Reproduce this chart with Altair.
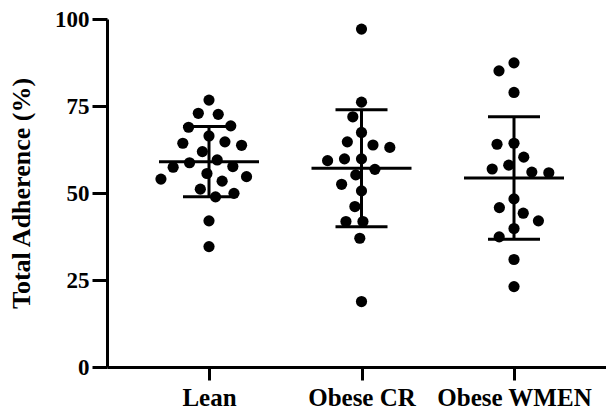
import math
import altair as alt
import pandas as pd

# ---- data ----
groups = ["Lean", "Obese CR", "Obese WMEN"]
lean = [76.7, 72.6, 72.9, 68.9, 69.3, 66.4, 64.3, 63.7, 64.7, 61.9, 58.7, 59.5,
        57.4, 57.6, 54.7, 55.6, 54.0, 53.4, 51.1, 48.9, 49.9, 42.0, 34.6]
obese_cr = [97.1, 76.1, 71.9, 67.4, 64.7, 63.1, 63.8, 59.8, 59.3, 59.8, 56.8,
            55.2, 52.5, 50.6, 46.1, 41.8, 41.8, 37.0, 18.8]
obese_wmen = [87.4, 85.1, 78.9, 64.0, 64.3, 60.3, 56.9, 55.8, 56.0, 58.0, 48.3,
              45.8, 44.2, 42.0, 39.8, 37.4, 30.9, 23.1]
means = [59.0, 57.1, 54.3]
sds = [10.1, 16.8, 17.6]
y_ticks = [0, 25, 50, 75, 100]

# ---- layout constants ----
W, H = 499, 348
STEP_PX = 152.5
X_MIN = -102 / STEP_PX
X_MAX = X_MIN + W / STEP_PX
PX_PER_Y = H / 100.0
DOT_D = 17.0
MEAN_HALF = 50 / STEP_PX
CAP_HALF = 26 / STEP_PX
FONT = "Liberation Serif"


def beeswarm(vals):
    placed = []
    offs = [0.0] * len(vals)
    order = sorted(range(len(vals)), key=lambda i: -vals[i])
    for i in order:
        y = vals[i] * PX_PER_Y
        cands = [0.0]
        for px, py in placed:
            dy = abs(py - y)
            if dy < DOT_D:
                dx = math.sqrt(DOT_D * DOT_D - dy * dy)
                cands += [px + dx, px - dx]
        valid = [c for c in cands
                 if all((c - px) ** 2 + (y - py) ** 2 >= DOT_D * DOT_D - 1e-6
                        for px, py in placed)]
        best = min(valid, key=lambda c: (round(abs(c), 4), c))
        placed.append((best, y))
        offs[i] = best / STEP_PX
    return offs


rows = []
for gi, vals in enumerate([lean, obese_cr, obese_wmen]):
    for v, o in zip(vals, beeswarm(vals)):
        rows.append({"group": groups[gi], "x": gi + o, "value": v})
pts = pd.DataFrame(rows)

stats = pd.DataFrame({
    "group": groups,
    "gx": list(range(len(groups))),
    "mean": means,
    "lo": [m - s for m, s in zip(means, sds)],
    "hi": [m + s for m, s in zip(means, sds)],
})
stats["m_l"] = stats["gx"] - MEAN_HALF
stats["m_r"] = stats["gx"] + MEAN_HALF
stats["c_l"] = stats["gx"] - CAP_HALF
stats["c_r"] = stats["gx"] + CAP_HALF

label_expr = "[" + ",".join("'%s'" % g for g in groups) + "][datum.value]"

xscale = alt.Scale(domain=[X_MIN, X_MAX], nice=False, zero=False)
yscale = alt.Scale(domain=[0, 100], nice=False)

x_axis = alt.Axis(values=list(range(len(groups))), labelExpr=label_expr,
                  tickSize=13, tickWidth=3, domainWidth=3, domainColor="black",
                  tickColor="black", labelColor="black", labelFont=FONT,
                  labelFontSize=25, labelFontWeight="bold", labelPadding=5,
                  grid=False, labelFlush=False)
y_axis = alt.Axis(values=y_ticks, tickSize=15, tickWidth=3, domainWidth=3,
                  domainColor="black", tickColor="black", labelColor="black",
                  labelFont=FONT, labelFontSize=23, labelFontWeight="bold",
                  labelPadding=3, title="Total Adherence (%)", titleFont=FONT,
                  titleFontSize=26, titleFontWeight="bold", titleColor="black",
                  titlePadding=20, grid=False)

points = alt.Chart(pts).mark_circle(size=125, color="black", opacity=1).encode(
    x=alt.X("x:Q", scale=xscale, axis=x_axis, title=None),
    y=alt.Y("value:Q", scale=yscale, axis=y_axis),
)

base = alt.Chart(stats)
mean_line = base.mark_rule(color="black", strokeWidth=3).encode(
    x="m_l:Q", x2="m_r:Q", y="mean:Q")
sd_line = base.mark_rule(color="black", strokeWidth=3).encode(
    x="gx:Q", y="lo:Q", y2="hi:Q")
cap_hi = base.mark_rule(color="black", strokeWidth=3).encode(
    x="c_l:Q", x2="c_r:Q", y="hi:Q")
cap_lo = base.mark_rule(color="black", strokeWidth=3).encode(
    x="c_l:Q", x2="c_r:Q", y="lo:Q")

chart = alt.layer(points, sd_line, mean_line, cap_hi, cap_lo).properties(
    width=W, height=H,
    padding={"left": 0, "top": 0, "right": 0, "bottom": 0},
    background="white",
).configure_view(stroke=None)

chart.save("out.html", embed_options={"renderer": "svg", "actions": False})
